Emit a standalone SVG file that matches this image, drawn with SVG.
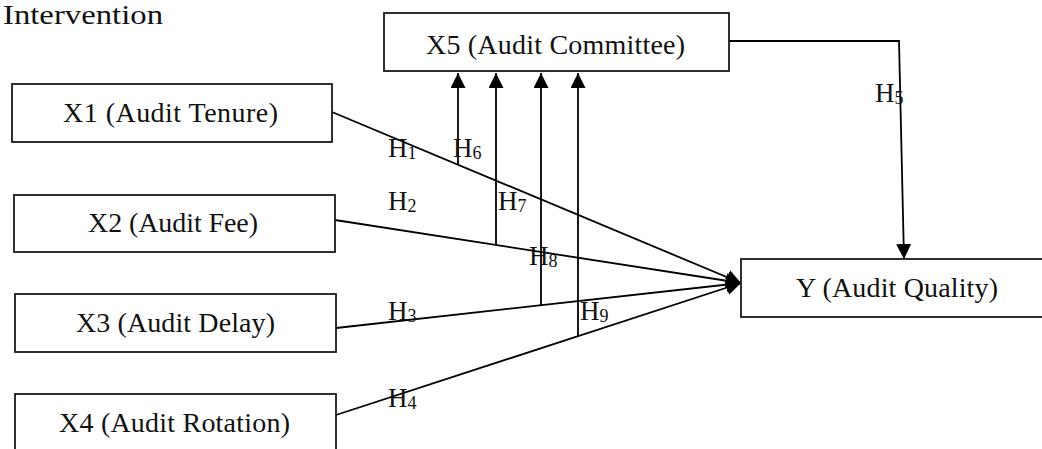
<svg xmlns="http://www.w3.org/2000/svg" width="1042" height="449" viewBox="0 0 1042 449">
  <style>
    .box { fill: #ffffff; stroke: #1a1a1a; stroke-width: 1.8; }
    .lbl { font-family: "Liberation Serif", "DejaVu Serif", serif; font-size: 28px; fill: #111111; }
    .hyp { font-family: "Liberation Serif", "DejaVu Serif", serif; font-size: 27px; fill: #111111; }
    .sub { font-size: 18px; }
    .edge { fill: none; stroke: #000000; stroke-width: 1.8; marker-end: url(#arrow); }
  </style>
  <defs>
    <marker id="arrow" markerUnits="userSpaceOnUse" markerWidth="17" markerHeight="17" refX="15" refY="7.5" orient="auto">
      <path d="M0,0 L15,7.5 L0,15 z" fill="#000000"/>
    </marker>
  </defs>

  <rect width="1042" height="449" fill="#ffffff"/>

  <text class="lbl" x="3" y="24" textLength="160" lengthAdjust="spacingAndGlyphs">Intervention</text>

  <!-- connectors -->
  <g id="connectors">
    <!-- direct effects on Y -->
    <line class="edge" x1="332" y1="112" x2="741" y2="283"/>
    <line class="edge" x1="335" y1="220" x2="741" y2="283"/>
    <line class="edge" x1="336" y1="328" x2="741" y2="283"/>
    <line class="edge" x1="336" y1="415" x2="741" y2="283"/>
    <!-- X5 to Y -->
    <polyline class="edge" points="729,41 899,41 904,259"/>
    <!-- moderation arrows up to X5 -->
    <line class="edge" x1="458" y1="165" x2="458" y2="73"/>
    <line class="edge" x1="496" y1="245" x2="496" y2="73"/>
    <line class="edge" x1="541" y1="305" x2="541" y2="73"/>
    <line class="edge" x1="578" y1="336" x2="578" y2="73"/>
  </g>

  <!-- hypothesis labels -->
  <g id="hypotheses">
    <text class="hyp" x="388" y="157">H<tspan class="sub" dy="2">1</tspan></text>
    <text class="hyp" x="388" y="210">H<tspan class="sub" dy="2">2</tspan></text>
    <text class="hyp" x="388" y="320">H<tspan class="sub" dy="2">3</tspan></text>
    <text class="hyp" x="388" y="407">H<tspan class="sub" dy="2">4</tspan></text>
    <text class="hyp" x="875" y="102">H<tspan class="sub" dy="2">5</tspan></text>
    <text class="hyp" x="453" y="157">H<tspan class="sub" dy="2">6</tspan></text>
    <text class="hyp" x="498" y="210">H<tspan class="sub" dy="2">7</tspan></text>
    <text class="hyp" x="529" y="265">H<tspan class="sub" dy="2">8</tspan></text>
    <text class="hyp" x="580" y="320">H<tspan class="sub" dy="2">9</tspan></text>
  </g>

  <g id="x1">
    <rect class="box" x="12" y="84" width="320" height="58"/>
    <text class="lbl" x="63" y="122" textLength="215">X1 (Audit Tenure)</text>
  </g>
  <g id="x2">
    <rect class="box" x="14" y="195" width="321" height="57"/>
    <text class="lbl" x="88" y="232" textLength="170">X2 (Audit Fee)</text>
  </g>
  <g id="x3">
    <rect class="box" x="15" y="294" width="321" height="58"/>
    <text class="lbl" x="76" y="332" textLength="199">X3 (Audit Delay)</text>
  </g>
  <g id="x4">
    <rect class="box" x="15" y="394" width="321" height="70"/>
    <text class="lbl" x="59" y="432" textLength="231">X4 (Audit Rotation)</text>
  </g>
  <g id="x5">
    <rect class="box" x="384" y="13" width="345" height="58"/>
    <text class="lbl" x="426" y="54" textLength="259">X5 (Audit Committee)</text>
  </g>
  <g id="y">
    <rect class="box" x="741" y="259" width="310" height="58"/>
    <text class="lbl" x="796" y="297" textLength="202">Y (Audit Quality)</text>
  </g>
</svg>
